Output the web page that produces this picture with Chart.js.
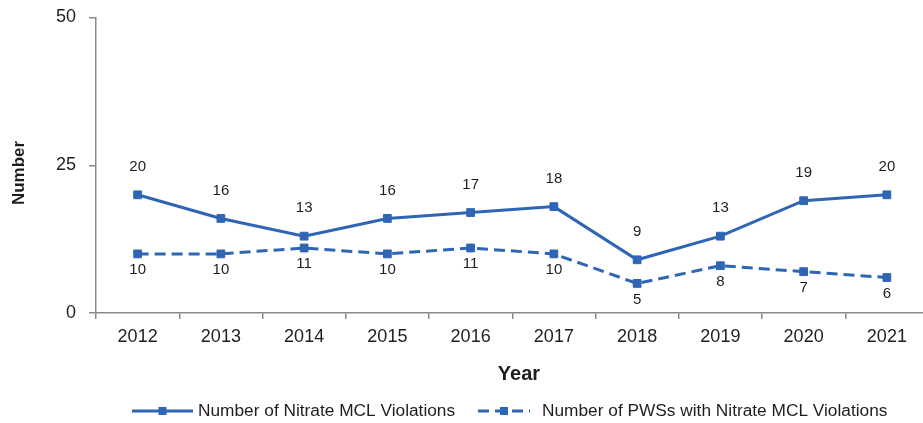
<!DOCTYPE html>
<html>
<head>
<meta charset="utf-8">
<script src="https://cdn.jsdelivr.net/npm/chart.js@4.4.0/dist/chart.umd.min.js"></script>
<style>
  html, body { margin: 0; padding: 0; background: #fff; overflow: hidden; }
  #wrap { width: 935px; height: 423px; }
</style>
</head>
<body>
<div id="wrap"><canvas id="c" width="935" height="423"></canvas></div>
<script>
const years = ['2012','2013','2014','2015','2016','2017','2018','2019','2020','2021'];
const violations = [20, 16, 13, 16, 17, 18, 9, 13, 19, 20];
const pwsWithViolations = [10, 10, 11, 10, 11, 10, 5, 8, 7, 6];
const yTicks = [0, 25, 50];
const seriesNames = ['Number of Nitrate MCL Violations', 'Number of PWSs with Nitrate MCL Violations'];
const yTitle = 'Number';
const xTitle = 'Year';

const BLUE = '#2f65b5';
const AXIS = '#8a8a8a';
const TEXT = '#1e1e1e';
const FONT = 'Arial, "Liberation Sans", sans-serif';

const overlay = {
  id: 'overlay',
  afterDatasetsDraw(chart) {
    const ctx = chart.ctx;
    ctx.save();
    // data labels
    ctx.font = '15px ' + FONT;
    ctx.fillStyle = TEXT;
    ctx.textAlign = 'center';
    ctx.textBaseline = 'middle';
    chart.getDatasetMeta(0).data.forEach((pt, i) => {
      ctx.fillText(String(violations[i]), pt.x, pt.y - 28);
    });
    chart.getDatasetMeta(1).data.forEach((pt, i) => {
      ctx.fillText(String(pwsWithViolations[i]), pt.x, pt.y + 16);
    });
    // axis titles
    ctx.font = 'bold 17px ' + FONT;
    ctx.save();
    ctx.translate(19, 173);
    ctx.rotate(-Math.PI / 2);
    ctx.fillText(yTitle, 0, 0);
    ctx.restore();
    ctx.font = 'bold 20px ' + FONT;
    ctx.fillText(xTitle, 519, 374);
    // legend
    const ly = 411;
    function sample(x0, x1, dashed) {
      ctx.save();
      ctx.strokeStyle = BLUE;
      ctx.lineWidth = 3;
      if (dashed) ctx.setLineDash([11, 6]);
      ctx.beginPath();
      ctx.moveTo(x0, ly);
      ctx.lineTo(x1, ly);
      ctx.stroke();
      ctx.setLineDash([]);
      ctx.fillStyle = BLUE;
      const m = (x0 + x1) / 2;
      ctx.fillRect(m - 4, ly - 4, 8, 8);
      ctx.restore();
    }
    sample(132, 193, false);
    sample(478, 530, true);
    ctx.font = '17.3px ' + FONT;
    ctx.fillStyle = TEXT;
    ctx.textAlign = 'left';
    ctx.fillText(seriesNames[0], 198, ly);
    ctx.fillText(seriesNames[1], 542, ly);
    ctx.restore();
  }
};

new Chart(document.getElementById('c'), {
  type: 'line',
  data: {
    labels: years,
    datasets: [
      {
        label: seriesNames[0],
        data: violations,
        borderColor: BLUE,
        backgroundColor: BLUE,
        borderWidth: 3,
        pointStyle: 'rect',
        pointRadius: 5.5,
        pointBorderWidth: 1,
        tension: 0,
        fill: false
      },
      {
        label: seriesNames[1],
        data: pwsWithViolations,
        borderColor: BLUE,
        backgroundColor: BLUE,
        borderWidth: 3,
        borderDash: [11, 6],
        pointStyle: 'rect',
        pointRadius: 5.5,
        pointBorderWidth: 1,
        tension: 0,
        fill: false
      }
    ]
  },
  options: {
    responsive: false,
    animation: false,
    layout: { padding: { top: 17, right: 2, bottom: 0, left: 0 } },
    plugins: {
      legend: { display: false },
      tooltip: { enabled: false }
    },
    scales: {
      x: {
        offset: true,
        grid: {
          display: true,
          offset: true,
          drawOnChartArea: false,
          drawTicks: true,
          tickLength: 6,
          color: AXIS,
          lineWidth: 1.5
        },
        border: { display: true, color: AXIS, width: 1.5 },
        ticks: {
          color: TEXT,
          font: { family: FONT, size: 18 },
          padding: 7,
          maxRotation: 0,
          autoSkip: false
        },
        afterFit(scale) { scale.height = 110; }
      },
      y: {
        min: 0,
        max: 50,
        afterBuildTicks(scale) { scale.ticks = yTicks.map(v => ({ value: v })); },
        grid: {
          display: true,
          drawOnChartArea: false,
          drawTicks: true,
          tickLength: 7,
          color: AXIS,
          lineWidth: 1.5
        },
        border: { display: true, color: AXIS, width: 1.5 },
        ticks: {
          color: TEXT,
          font: { family: FONT, size: 18, lineHeight: 0.5 },
          padding: 13
        },
        afterFit(scale) { scale.width = 96; }
      }
    }
  },
  plugins: [overlay]
});
</script>
</body>
</html>
